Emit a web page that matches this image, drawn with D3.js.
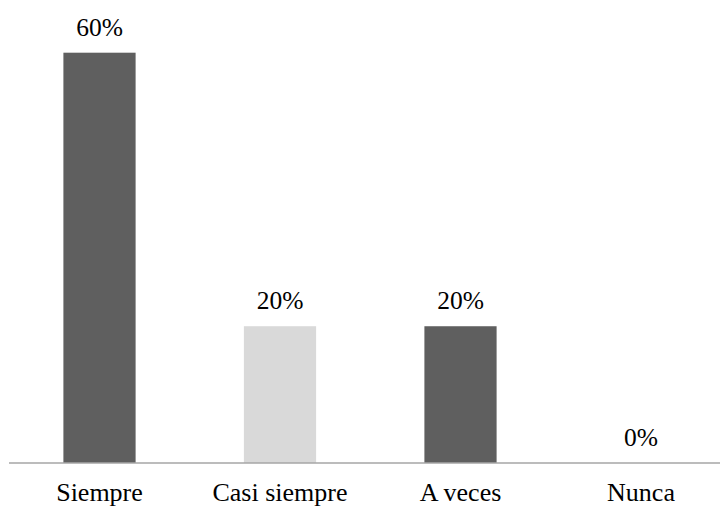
<!DOCTYPE html>
<html><head><meta charset="utf-8">
<script src="https://cdn.jsdelivr.net/npm/d3@7"></script>
<style>body{margin:0;background:#fff}</style>
</head><body><svg id="c" width="720" height="509"></svg>
<script>
const categories = ["Siempre", "Casi siempre", "A veces", "Nunca"];
const values = [60, 20, 20, 0];
const barColors = ["#5f5f5f", "#d9d9d9", "#5f5f5f", "#5f5f5f"];

const svg = d3.select("#c");
const baseY = 463;
const x = d3.scaleBand().domain(categories).range([9.25, 731.25]).paddingInner(0.6).paddingOuter(0.3);
const y = d3.scaleLinear().domain([0, 60]).range([baseY, 52.7]);
const font = '"Liberation Serif"';

svg.selectAll("rect.bar").data(categories).enter().append("rect")
  .attr("class","bar")
  .attr("x", d => x(d)).attr("width", x.bandwidth())
  .attr("y", (d,i) => y(values[i])).attr("height", (d,i) => baseY - y(values[i]))
  .attr("fill", (d,i) => barColors[i]);

svg.append("line").attr("x1", 9).attr("x2", 720).attr("y1", baseY).attr("y2", baseY)
  .attr("stroke", "#a6a6a6").attr("stroke-width", 1.3);

svg.selectAll("text.val").data(categories).enter().append("text")
  .attr("class","val")
  .attr("x", d => x(d) + x.bandwidth()/2)
  .attr("y", (d,i) => y(values[i]) - 17)
  .attr("text-anchor","middle").attr("font-size", 25.5)
  .style("font-family", font)
  .attr("fill","#000").text((d,i) => values[i] + "%");

svg.selectAll("text.cat").data(categories).enter().append("text")
  .attr("class","cat")
  .attr("x", d => x(d) + x.bandwidth()/2)
  .attr("y", 501)
  .attr("text-anchor","middle").attr("font-size", 26)
  .style("font-family", font)
  .attr("fill","#000").text(d => d);
</script></body></html>
